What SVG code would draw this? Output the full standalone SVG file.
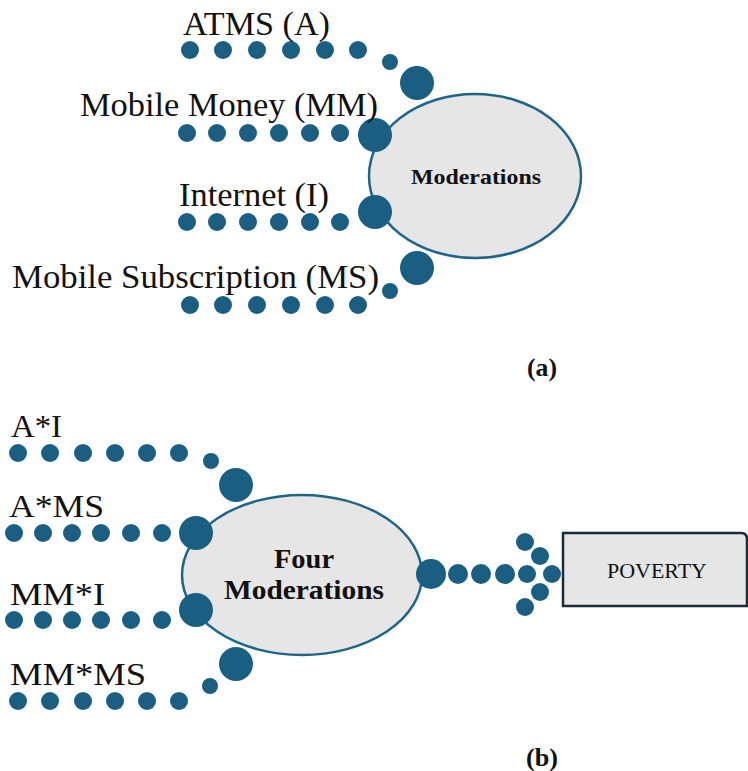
<svg xmlns="http://www.w3.org/2000/svg" width="748" height="771" viewBox="0 0 748 771">
<style>
.lbl{font-family:"Liberation Serif","Times New Roman",serif;font-size:33px;fill:#111}
.lb2{font-family:"Liberation Serif","Times New Roman",serif;font-size:32px;fill:#111}
.bold{font-family:"Liberation Serif","Times New Roman",serif;font-weight:bold;fill:#111}
.d{fill:#1a5f82}
.ell{fill:#e6e6e6;stroke:#1d6688;stroke-width:2.5}
</style>
<rect width="748" height="771" fill="#fff"/>
<g id="connectors">
  <circle class="d" cx="190" cy="50" r="9"/><circle class="d" cx="223" cy="50" r="9"/><circle class="d" cx="257" cy="50" r="9"/><circle class="d" cx="291" cy="50" r="9"/><circle class="d" cx="325" cy="50" r="9"/><circle class="d" cx="358" cy="50" r="9"/>
  <circle class="d" cx="390" cy="62" r="8"/>
  <circle class="d" cx="187" cy="133" r="9"/><circle class="d" cx="217" cy="133" r="9"/><circle class="d" cx="248" cy="133" r="9"/><circle class="d" cx="279" cy="133" r="9"/><circle class="d" cx="310" cy="133" r="9"/><circle class="d" cx="340" cy="133" r="9"/>
  <circle class="d" cx="187" cy="222" r="9"/><circle class="d" cx="217" cy="222" r="9"/><circle class="d" cx="248" cy="222" r="9"/><circle class="d" cx="279" cy="222" r="9"/><circle class="d" cx="310" cy="222" r="9"/><circle class="d" cx="340" cy="222" r="9"/>
  <circle class="d" cx="390" cy="291" r="8"/>
  <circle class="d" cx="190" cy="305" r="9"/><circle class="d" cx="223" cy="305" r="9"/><circle class="d" cx="257" cy="305" r="9"/><circle class="d" cx="291" cy="305" r="9"/><circle class="d" cx="325" cy="305" r="9"/><circle class="d" cx="358" cy="305" r="9"/>
  <circle class="d" cx="18" cy="453" r="9"/><circle class="d" cx="50" cy="453" r="9"/><circle class="d" cx="83" cy="453" r="9"/><circle class="d" cx="115" cy="453" r="9"/><circle class="d" cx="147" cy="453" r="9"/><circle class="d" cx="179" cy="453" r="9"/>
  <circle class="d" cx="211" cy="461" r="8"/>
  <circle class="d" cx="14" cy="533" r="9"/><circle class="d" cx="43" cy="533" r="9"/><circle class="d" cx="72" cy="533" r="9"/><circle class="d" cx="101" cy="533" r="9"/><circle class="d" cx="131" cy="533" r="9"/><circle class="d" cx="162" cy="533" r="9"/>
  <circle class="d" cx="14" cy="620" r="9"/><circle class="d" cx="43" cy="620" r="9"/><circle class="d" cx="72" cy="620" r="9"/><circle class="d" cx="101" cy="620" r="9"/><circle class="d" cx="131" cy="620" r="9"/><circle class="d" cx="162" cy="620" r="9"/>
  <circle class="d" cx="210" cy="686" r="8"/>
  <circle class="d" cx="18" cy="701" r="9"/><circle class="d" cx="50" cy="701" r="9"/><circle class="d" cx="83" cy="701" r="9"/><circle class="d" cx="115" cy="701" r="9"/><circle class="d" cx="147" cy="701" r="9"/><circle class="d" cx="179" cy="701" r="9"/>
  <circle class="d" cx="458" cy="574" r="10"/><circle class="d" cx="481" cy="574" r="10"/><circle class="d" cx="505" cy="574" r="10"/>
  <circle class="d" cx="525" cy="542" r="9"/><circle class="d" cx="540" cy="556" r="9"/><circle class="d" cx="527" cy="574" r="9"/><circle class="d" cx="552" cy="574" r="9"/><circle class="d" cx="540" cy="592" r="9"/><circle class="d" cx="525" cy="607" r="9"/>
</g>
<g id="node-moderations">
  <ellipse class="ell" cx="475" cy="176" rx="106" ry="82"/>
  <text class="bold" x="476" y="184" font-size="21" text-anchor="middle" textLength="130" lengthAdjust="spacingAndGlyphs">Moderations</text>
</g>
<g id="node-four-moderations">
  <ellipse class="ell" cx="302" cy="575" rx="120" ry="80"/>
  <text class="bold" x="304" y="568" font-size="27" text-anchor="middle" textLength="60" lengthAdjust="spacingAndGlyphs">Four</text>
  <text class="bold" x="304" y="599" font-size="27" text-anchor="middle" textLength="160" lengthAdjust="spacingAndGlyphs">Moderations</text>
</g>
<g id="ports">
  <circle class="d" cx="417" cy="83" r="17"/>
  <circle class="d" cx="375" cy="135" r="17"/>
  <circle class="d" cx="375" cy="212" r="17"/>
  <circle class="d" cx="417" cy="268" r="17"/>
  <circle class="d" cx="236" cy="485" r="17"/>
  <circle class="d" cx="196" cy="533" r="17"/>
  <circle class="d" cx="196" cy="610" r="17"/>
  <circle class="d" cx="236" cy="664" r="17"/>
  <circle class="d" cx="431" cy="574" r="15"/>
</g>
<g id="node-atms"><text class="lbl" x="183" y="35" textLength="147" lengthAdjust="spacingAndGlyphs">ATMS (A)</text></g>
<g id="node-mm"><text class="lbl" x="80" y="116" textLength="298" lengthAdjust="spacingAndGlyphs">Mobile Money (MM)</text></g>
<g id="node-internet"><text class="lbl" x="179" y="206" textLength="150" lengthAdjust="spacingAndGlyphs">Internet (I)</text></g>
<g id="node-ms"><text class="lbl" x="12" y="288" textLength="367" lengthAdjust="spacingAndGlyphs">Mobile Subscription (MS)</text></g>
<g id="label-a"><text class="bold" x="527" y="376" font-size="25" textLength="30" lengthAdjust="spacingAndGlyphs">(a)</text></g>
<g id="node-ai"><text class="lb2" x="11" y="437" textLength="51" lengthAdjust="spacingAndGlyphs">A*I</text></g>
<g id="node-ams"><text class="lb2" x="9" y="517" textLength="95" lengthAdjust="spacingAndGlyphs">A*MS</text></g>
<g id="node-mmi"><text class="lb2" x="10" y="605" textLength="95" lengthAdjust="spacingAndGlyphs">MM*I</text></g>
<g id="node-mmms"><text class="lb2" x="10" y="685" textLength="136" lengthAdjust="spacingAndGlyphs">MM*MS</text></g>
<g id="node-poverty">
  <path d="M563,533 H741 Q747,533 747,539 V606 H563 Z" fill="#e6e6e6" stroke="#1c2b3a" stroke-width="2.5"/>
  <text class="lb2" x="607" y="578" style="font-size:22px" textLength="100" lengthAdjust="spacingAndGlyphs">POVERTY</text>
</g>
<g id="label-b"><text class="bold" x="526" y="766" font-size="25" textLength="32" lengthAdjust="spacingAndGlyphs">(b)</text></g>
</svg>
